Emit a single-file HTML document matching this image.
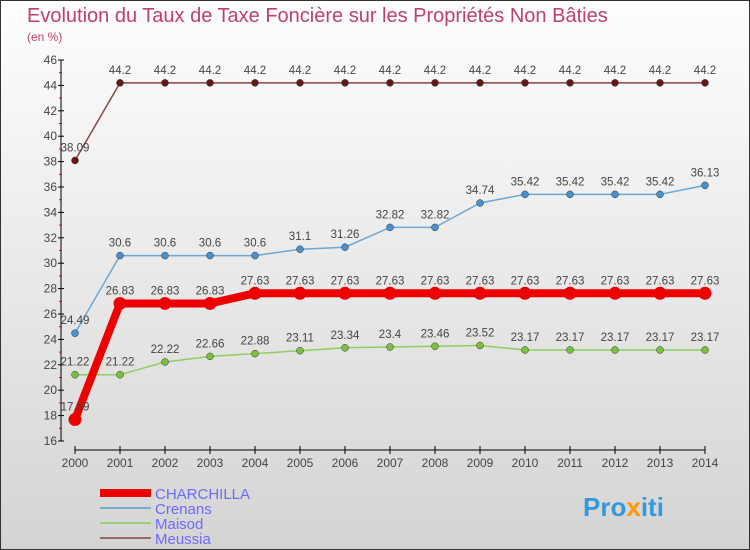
<!DOCTYPE html>
<html><head><meta charset="utf-8"><style>
body{margin:0;}
#c{width:750px;height:550px;position:relative;overflow:hidden;font-family:"Liberation Sans",sans-serif;background:linear-gradient(#fefefe,#d4d4d4);}
</style></head><body>
<div id="c">
<svg id="s" width="750" height="550" xmlns="http://www.w3.org/2000/svg">
<rect x="0.5" y="0.5" width="749" height="549" fill="none" stroke="#333"/>
<text x="27" y="22" font-size="20" fill="#c0406a">Evolution du Taux de Taxe Foncière sur les Propriétés Non Bâties</text>
<text x="27" y="41" font-size="12" fill="#c0406a">(en %)</text>
<g id="axes"></g><g id="series"></g>
<g>
<rect x="100" y="489" width="51" height="8" fill="#e00"/>
<text x="155" y="499" font-size="15" fill="#6a6aff">CHARCHILLA</text>
<rect x="100" y="507" width="51" height="2" fill="#7aaccc"/>
<text x="155" y="514" font-size="15" fill="#6a6aff">Crenans</text>
<rect x="100" y="522" width="51" height="2" fill="#99d070"/>
<text x="155" y="529" font-size="15" fill="#6a6aff">Maisod</text>
<rect x="100" y="537" width="51" height="2" fill="#996666"/>
<text x="155" y="544" font-size="15" fill="#6a6aff">Meussia</text>
</g>
<text x="583" y="516" font-size="26" font-weight="bold" fill="#3399dd">Pro<tspan fill="#ff9900">x</tspan>iti</text>
</svg>
</div>
<script>
const years=[2000,2001,2002,2003,2004,2005,2006,2007,2008,2009,2010,2011,2012,2013,2014];
const yTicks=[16,18,20,22,24,26,28,30,32,34,36,38,40,42,44,46];
const charchilla=[17.69,26.83,26.83,26.83,27.63,27.63,27.63,27.63,27.63,27.63,27.63,27.63,27.63,27.63,27.63];
const crenans=[24.49,30.6,30.6,30.6,30.6,31.1,31.26,32.82,32.82,34.74,35.42,35.42,35.42,35.42,36.13];
const maisod=[21.22,21.22,22.22,22.66,22.88,23.11,23.34,23.4,23.46,23.52,23.17,23.17,23.17,23.17,23.17];
const meussia=[38.09,44.2,44.2,44.2,44.2,44.2,44.2,44.2,44.2,44.2,44.2,44.2,44.2,44.2,44.2];
const NS="http://www.w3.org/2000/svg";
const X=i=>75+i*45, Y=v=>441-(v-16)*12.7;
function mk(p,t,a){const e=document.createElementNS(NS,t);for(const k in a)e.setAttribute(k,a[k]);p.appendChild(e);return e;}
const ax=document.getElementById('axes'), sr=document.getElementById('series');
let e=mk(ax,'line',{x1:61,y1:Y(46),x2:61,y2:Y(16),stroke:'#000'});


e=mk(ax,'line',{x1:75,y1:450,x2:705,y2:450,stroke:'#000'});


yTicks.forEach((v,i)=>{
 mk(ax,'line',{x1:58,y1:Y(v),x2:64,y2:Y(v),stroke:'#000'});
 if(i<yTicks.length-1)mk(ax,'line',{x1:59,y1:Y(v+1),x2:62,y2:Y(v+1),stroke:'#e00'});
 const t=mk(ax,'text',{x:57,y:Y(v)+4,'font-size':12,'text-anchor':'end',fill:'#444'});t.textContent=v;
 
 
});
years.forEach((y,i)=>{
 mk(ax,'line',{x1:X(i),y1:446,x2:X(i),y2:454,stroke:'#000'});
 const t=mk(ax,'text',{x:X(i),y:467,'font-size':12,'text-anchor':'middle',fill:'#444'});t.textContent=y;
 
 
});
function series(data,name,col,w,r,dot){
 const g=mk(sr,'g',{});
 
 
 mk(g,'polyline',{points:data.map((v,i)=>X(i)+','+Y(v)).join(' '),fill:'none',stroke:col,'stroke-width':w});
 data.forEach((v,i)=>{
  const c=mk(g,'circle',{cx:X(i),cy:Y(v),r:r,fill:dot,stroke:'#333','stroke-width':r>5?0:0.5});
  
  
  const t=mk(g,'text',{x:X(i),y:Y(v)-9,'font-size':11.5,'text-anchor':'middle',fill:'#444'});t.textContent=v;
  
  
 });
}
series(meussia,'meussia','#884444',1.5,3.5,'#661818');
series(crenans,'crenans','#6aa8d8',1.5,3.5,'#4a90cc');
series(maisod,'maisod','#8cd060',1.5,3.5,'#7cc040');
series(charchilla,'charchilla','#ee0000',8,6.5,'#ee0000');
</script>
</body></html>
